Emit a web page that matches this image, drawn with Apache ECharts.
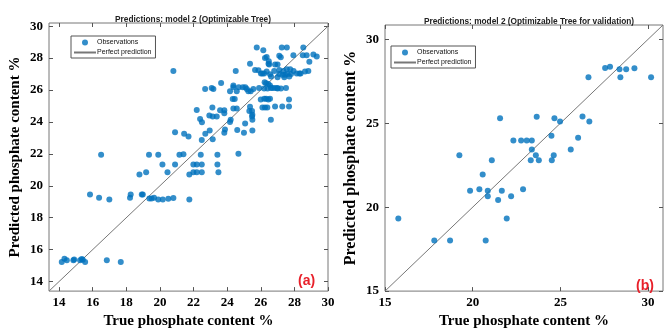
<!DOCTYPE html>
<html>
<head>
<meta charset="utf-8">
<script src="https://cdn.jsdelivr.net/npm/echarts@6/dist/echarts.min.js"></script>
<style>
  html, body { margin: 0; padding: 0; background: #fff; }
  #chart { width: 665px; height: 334px; }
</style>
</head>
<body>
<div id="chart"></div>
<script>
// training set (a): [true, predicted]
const obsA = [
  [14.16,15.22],[14.32,15.43],[14.46,15.33],[14.85,15.33],[14.9,15.38],[15.25,15.33],[15.35,15.41],[15.41,15.37],[15.55,15.22],[16.84,15.33],[17.67,15.22],
  [15.84,19.45],[16.38,19.25],[16.99,19.14],[16.5,21.94],[18.22,19.25],[18.26,19.45],[18.78,20.71],[19.18,20.84],[18.92,19.45],[18.98,19.45],
  [19.37,19.2],[19.5,19.2],[19.65,19.25],[19.35,21.94],[19.9,21.94],[20.15,21.33],[19.9,19.14],[20.17,19.14],[20.45,20.84],[20.5,19.18],
  [20.8,19.24],[20.9,21.33],[21.16,21.94],[21.4,21.97],[21.75,20.71],[21.75,19.14],[21.99,21.33],[22.19,21.33],[21.99,20.84],[22.19,20.84],
  [22.49,20.84],[22.43,21.94],[22.49,21.33],[23.42,21.94],[23.42,21.33],[23.48,20.84],[24.67,22.0],
  [20.8,27.2],[20.9,23.36],[21.44,23.26],[21.7,23.08],[22.19,24.75],[22.39,24.18],[22.5,23.98],[22.49,22.87],[22.7,23.26],[22.96,23.47],
  [23.14,22.92],[22.69,26.07],[23.08,26.13],[23.18,26.07],[23.64,26.44],[22.94,24.4],[23.14,24.34],[23.38,24.34],[23.12,24.9],[23.58,24.73],
  [23.83,24.73],[23.83,24.55],[23.87,23.53],[23.83,23.32],[24.17,24.0],[24.21,24.14],[24.33,25.43],[24.45,25.43],[24.37,24.85],[24.57,24.85],
  [24.17,25.93],[24.57,25.93],[24.37,26.18],[24.37,26.28],[24.51,27.2],[24.69,26.18],[24.93,26.18],[25.08,26.18],[24.6,23.49],[25.07,23.9],
  [25.0,23.32],[25.17,26.07],[25.26,25.93],[25.4,25.93],[25.56,26.07],[25.36,24.95],[25.32,24.69],[25.48,24.69],[25.5,24.45],[25.48,24.34],
  [25.5,24.14],[25.36,27.65],[25.5,23.47],[25.76,28.67],[25.66,27.26],[25.86,27.24],[25.9,26.12],[26.01,27.04],[26.1,27.04],[26.2,27.04],
  [26.15,28.5],[26.25,28.01],[26.35,28.07],[26.48,27.81],[26.46,27.65],[26.5,27.6],[26.23,26.48],[26.32,26.42],[26.45,26.38],[26.55,26.28],
  [26.0,25.4],[26.21,25.46],[26.32,25.46],[26.45,25.4],[26.55,25.46],[26.1,24.91],[26.25,24.91],[26.39,24.91],[26.2,26.1],[26.4,26.1],
  [26.6,26.13],[26.7,26.12],[26.85,26.12],[26.99,26.12],[26.6,24.14],[26.35,27.16],[26.55,26.99],[26.61,26.85],
  [27.25,28.67],[27.55,28.67],[27.1,28.15],[27.19,28.05],[26.85,27.6],[27.0,27.6],[26.8,27.2],[27.1,27.25],[27.35,27.2],[27.55,27.3],
  [27.75,27.3],[27.95,27.2],[27.1,27.0],[27.3,26.95],[27.45,26.95],[27.6,27.0],[27.8,27.0],[27.0,26.8],[27.4,26.8],[27.7,26.85],
  [27.0,26.1],[27.2,26.1],[27.5,26.13],[26.85,24.97],[27.28,24.97],[27.68,24.97],[27.68,25.4],[27.94,28.18],[28.14,27.04],[28.3,27.04],
  [28.37,27.04],[28.53,28.67],[28.5,28.18],[28.73,28.18],[29.13,28.22],[29.33,28.1],[28.63,27.16],[28.83,27.2],[28.89,27.77]
];

// validation set (b)
const obsB = [
  [19.24,23.09],[21.09,22.8],[21.56,25.29],[22.32,23.97],[22.76,23.97],[23.08,23.97],[23.37,23.97],[23.37,23.43],[23.31,22.8],[23.77,22.8],
  [23.6,23.09],[23.65,25.38],[24.49,24.25],[24.51,22.8],[24.62,23.09],[24.66,25.29],[24.98,25.1],[25.59,23.43],[26.01,24.14],[26.26,25.4],
  [26.65,25.1],[26.6,27.74],[27.55,28.29],[27.83,28.37],[28.37,28.22],[28.42,27.74],[28.75,28.22],[29.22,28.28],[30.17,27.74],
  [20.57,21.94],[19.85,20.98],[20.38,21.07],[20.86,20.98],[20.86,20.65],[21.45,20.42],[21.66,20.98],[22.19,20.65],[22.87,21.07],
  [21.94,19.33],[15.76,19.33],[17.81,18.01],[18.71,18.01],[20.74,18.01]
];

const ticksA = [14, 16, 18, 20, 22, 24, 26, 28, 30];
const ticksB = [15, 20, 25, 30];
const rangeAx = [13.4, 30];
const rangeAy = [13.4, 30.2];
const rangeB = [15, 30.85];
const perfectA = [[13.4, 13.4], [30.2, 30.2]];
const perfectB = [[15, 15], [30.85, 30.85]];

const serif = "'Liberation Serif', 'DejaVu Serif', serif";
const sans = "'Liberation Sans', Arial, sans-serif";
const blue = "#0072bd";

function axes(dim, gridIndex, range, ticks, name, nameGap, nameSize) {
  const main = {
    type: "value", gridIndex, min: range[0], max: range[1],
    position: dim === "x" ? "bottom" : "left",
    name, nameLocation: "middle", nameGap,
    nameTextStyle: { fontFamily: serif, fontWeight: "bold", fontSize: nameSize, color: "#000" },
    axisLine: { show: false },
    axisTick: { inside: true, length: 4, customValues: ticks, lineStyle: { color: "#555" } },
    axisLabel: { customValues: ticks, fontFamily: serif, fontWeight: "bold", fontSize: 13, color: "#000", margin: dim === "x" ? 5 : 6 },
    splitLine: { show: false }
  };
  const mirror = {
    type: "value", gridIndex, min: range[0], max: range[1],
    position: dim === "x" ? "top" : "right",
    axisLine: { show: false },
    axisTick: { inside: true, length: 4, customValues: ticks, lineStyle: { color: "#555" } },
    axisLabel: { show: false },
    splitLine: { show: false }
  };
  return [main, mirror];
}

function legendAt(left, top) {
  return {
    left, top, orient: "vertical", itemGap: 3, itemWidth: 22, itemHeight: 6,
    padding: [3, 4, 2, 2], borderColor: "#555", borderWidth: 1, backgroundColor: "#fff",
    textStyle: { fontFamily: sans, fontSize: 7, color: "#111", padding: [0, 0, 0, -4] },
    data: [
      { name: "Observations", icon: "circle" },
      { name: "Perfect prediction", itemStyle: { opacity: 0 } }
    ]
  };
}

const chart = echarts.init(document.getElementById("chart"));

chart.setOption({
  animation: false,
  title: [
    { text: "Predictions: model 2 (Optimizable Tree)", left: 188, top: 11, textAlign: "center",
      textStyle: { fontFamily: sans, fontSize: 8.3, fontWeight: "bold", color: "#222" } },
    { text: "Predictions: model 2 (Optimizable Tree for validation)", left: 524, top: 13, textAlign: "center",
      textStyle: { fontFamily: sans, fontSize: 8.3, fontWeight: "bold", color: "#222" } }
  ],
  grid: [
    { left: 49, top: 23, width: 279, height: 276, show: true, borderColor: "#777", borderWidth: 1 },
    { left: 385, top: 25, width: 278, height: 275, show: true, borderColor: "#777", borderWidth: 1 }
  ],
  xAxis: [
    ...axes("x", 0, rangeAx, ticksA, "True phosphate content %", 18, 15),
    ...axes("x", 1, rangeB, ticksB, "True phosphate content %", 18, 15)
  ],
  yAxis: [
    ...axes("y", 0, rangeAy, ticksA, "Predicted phosphate content %", 26, 15),
    ...axes("y", 1, rangeB, ticksB, "Predicted phosphate content %", 26, 16)
  ],
  legend: [legendAt(71, 36), legendAt(391, 46)],
  graphic: [
    { type: "text", left: 298, top: 274, style: { text: "(a)", fill: "#e8202a", font: "bold 14px " + sans } },
    { type: "text", left: 636, top: 279, style: { text: "(b)", fill: "#e8202a", font: "bold 14px " + sans } }
  ],
  series: [
    { name: "Perfect prediction", type: "line", xAxisIndex: 0, yAxisIndex: 0, data: perfectA, symbol: "none",
      lineStyle: { color: "#777", width: 1 }, clip: true, z: 1 },
    { name: "Observations", type: "scatter", xAxisIndex: 0, yAxisIndex: 0, data: obsA, symbolSize: 6,
      itemStyle: { color: blue }, z: 2 },
    { name: "Perfect prediction", type: "line", xAxisIndex: 2, yAxisIndex: 2, data: perfectB, symbol: "none",
      lineStyle: { color: "#777", width: 1 }, clip: true, z: 1 },
    { name: "Observations", type: "scatter", xAxisIndex: 2, yAxisIndex: 2, data: obsB, symbolSize: 6,
      itemStyle: { color: blue }, z: 2 }
  ]
});
</script>
</body>
</html>
